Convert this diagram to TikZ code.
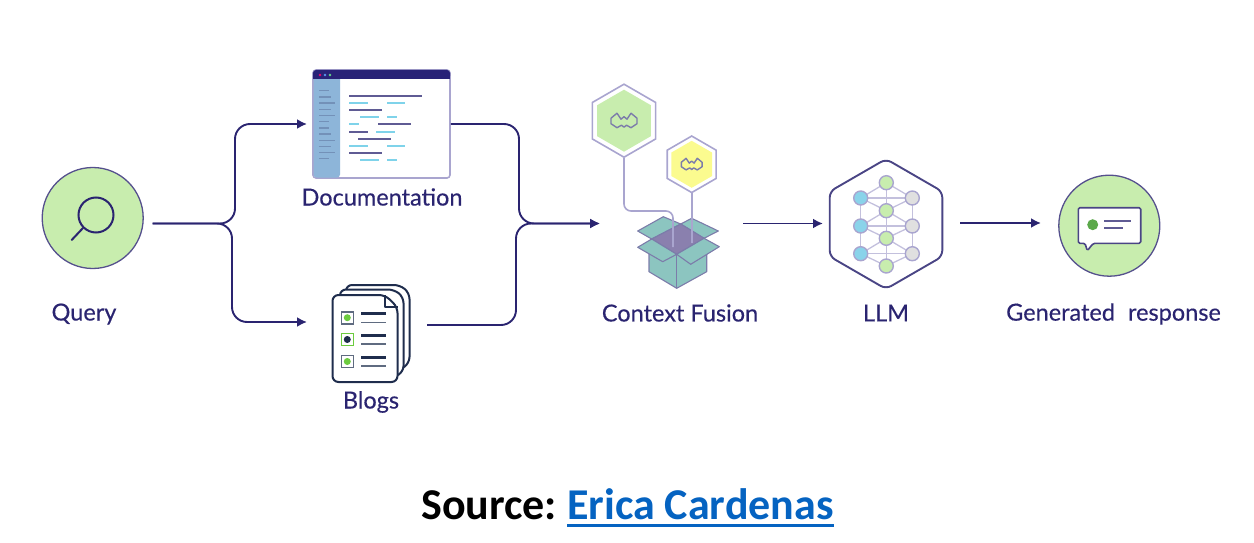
\documentclass[tikz,border=0pt]{standalone}
\usepackage{fontspec}
\usepackage{xcolor}
\usepackage{tikz}
\usetikzlibrary{shapes.geometric, arrows.meta}
\setmainfont[FakeBold=0.3]{Lato}
\newfontfamily\sourcefont{Carlito}

\definecolor{navy}{HTML}{2A2470}
\definecolor{lavender}{HTML}{A9A5CF}
\definecolor{softgreen}{HTML}{C8EDAE}
\definecolor{softyellow}{HTML}{FBFB8F}
\definecolor{sidebar}{HTML}{8DB5D9}
\definecolor{sideline}{HTML}{7391B8}
\definecolor{skyline}{HTML}{7FD3EA}
\definecolor{teal}{HTML}{8CC5C0}
\definecolor{boxedge}{HTML}{7C7CAA}
\definecolor{boxdark}{HTML}{8A80AE}
\definecolor{inkblue}{HTML}{1F2D4D}
\definecolor{greyline}{HTML}{5F6B80}
\definecolor{leafgreen}{HTML}{6CCB3F}
\definecolor{bubblegreen}{HTML}{5BA84A}
\definecolor{skyblue}{HTML}{8AD3EA}
\definecolor{softgrey}{HTML}{E0E0E0}
\definecolor{linkblue}{HTML}{0563C1}

\tikzset{
    label text/.style={text=navy, font=\fontsize{23.5}{28}\selectfont, inner sep=0pt},
    flow/.style={draw=navy, line width=1.9pt, rounded corners=15pt},
    round icon/.style={circle, draw=navy!80, fill=softgreen, line width=1.3pt, minimum size=101pt, inner sep=0pt},
    hex frame/.style={regular polygon, regular polygon sides=6, shape border rotate=30, draw=lavender, line width=1.6pt, inner sep=0pt},
    hex fill/.style={regular polygon, regular polygon sides=6, shape border rotate=30, inner sep=0pt},
    mesh/.style={circle, draw=lavender, line width=1.4pt, minimum size=14pt, inner sep=0pt},
    page/.style={draw=inkblue, fill=white, line width=2pt, rounded corners=6pt},
    check/.style={draw=#1, fill=white, line width=1.6pt, minimum size=12pt, inner sep=0pt},
    codeline/.style={line width=1.8pt, draw=#1},
    flap/.style={fill=teal, draw=boxedge, line width=1.1pt, line join=round},
    source text/.style={font=\sourcefont\bfseries\fontsize{44}{50}\selectfont, inner sep=0pt}
}

\newcommand{\hexlogo}[2]{
    \draw[boxedge, line width=1.4pt, line join=round, shift={(#1)}, scale=#2]
        (-13,-2.5) -- (-7,-7.5) -- (-3,-1.5) -- (0,-4) -- (3,-1.5) -- (7,-7.5) -- (13,-2.5) -- (13,3)
        -- (7,7) -- (2.5,4.5) -- (0,6.5) -- (-2.5,4.5) -- (-7,7) -- (-13,3) -- cycle;
}

\begin{document}
\begin{tikzpicture}[>={Latex[length=10pt,width=10pt]}, x=1pt, y=-1pt]
    \useasboundingbox (0,0) rectangle (1254,543);

    % Query
    \node[round icon] (query) at (92.7,218) {};
    \node[circle, draw=navy, line width=2pt, minimum size=35pt, inner sep=0pt] (lens) at (96,215) {};
    \coordinate (handle) at (71.7,240);
    \draw[navy, line width=2pt, line cap=round] (lens.225) -- (handle);
    \node[label text] (querytext) at (84,314) {Query};

    % Documentation
    \node[draw=lavender, fill=white, line width=1.6pt, rounded corners=3pt, minimum width=137pt, minimum height=108pt, inner sep=0pt] (docwin) at (381.5,124) {};
    \fill[sidebar, rounded corners=3pt] (313.5,74) rectangle (340,177.5);
    \fill[navy!95!blue, rounded corners=3pt] (313,70) rectangle (450,79);
    \fill[navy!95!blue] (313,75) rectangle (450,79);
    \fill[magenta!70!red] (320,75) circle (1.3);
    \fill[skyline!70!blue] (325,75) circle (1.3);
    \fill[teal!70!green] (330,75) circle (1.3);
    \node[label text] (doctext) at (382,197) {Documentation};
    % Sidebar lines
    \foreach \y/\e in {90.7/328.7, 97/331, 103/334.7, 109.3/331, 115.3/334.7, 121.3/328.7, 128/328.7, 134/331, 140.3/334.7, 146.3/331, 152.3/334.7, 158.3/328.7} {
        \draw[line width=1.3pt, draw=sideline] (319.3,\y) -- (\e,\y);
    }
    \foreach \a/\b/\y in {349.3/421.7/95.7, 349.3/382/110.3, 378/411/124.3, 349.3/368/131.7, 358/391/139, 349.3/382/153.3} {
        \draw[codeline=navy!75] (\a,\y) -- (\b,\y);
    }
    \foreach \a/\b/\y in {349.3/368/103, 387/405/103, 360/379/117.3, 387/397/117.3, 349.3/359/124.3, 376/395/131.7, 349.3/368/146, 387/405/146, 360/379/160, 387/397/160} {
        \draw[codeline=skyline] (\a,\y) -- (\b,\y);
    }

    % Blogs
    \node[label text] (blogtext) at (371,402) {Blogs};
    \draw[page] (346,285) -- (400,285) -- (409.5,293) -- (409.5,363) -- (400,370) -- (346,370) -- cycle;
    \draw[page] (340,289.5) -- (394,289.5) -- (403.5,297) -- (403.5,372) -- (394,377) -- (340,377) -- cycle;
    \draw[page] (332.5,295) -- (385,295) -- (397.5,307) -- (397.5,382) -- (332.5,382) -- cycle;
    \draw[inkblue, line width=1.4pt, line join=round] (385,295) -- (385,307) -- (397.5,307);
    \foreach \n/\y/\c/\d in {one/317.7/greyline/leafgreen, two/339.5/leafgreen/inkblue, three/361.5/greyline/leafgreen} {
        \node[check=\c] (box\n) at (347.3,\y) {};
        \fill[\d] (box\n.center) circle (3.5);
        \draw[inkblue, line width=2.8pt] (361,\y-4.2) -- (385.7,\y-4.2);
        \draw[greyline, line width=1.5pt] (361,\y+4.6) -- (385.7,\y+4.6);
    }

    % Context Fusion
    \node[hex frame, minimum size=73pt] (bighex) at (624,120.7) {};
    \node[hex fill, fill=softgreen, minimum size=62pt] (bigfill) at (bighex.center) {};
    \hexlogo{bighex.center}{1}
    \node[hex frame, minimum size=56.5pt] (smallhex) at (691.7,164.3) {};
    \node[hex fill, fill=softyellow, minimum size=47pt] (smallfill) at (smallhex.center) {};
    \hexlogo{smallhex.center}{0.8}
    \node[label text] (fusiontext) at (680,313) {Context Fusion};
    % Box
    \coordinate (dropa) at (673,247);
    \coordinate (dropb) at (691.7,243);
    \draw[flap] (649,254) -- (649,271.7) -- (676.7,288.3) -- (706.7,271.7) -- (706.7,254) -- (676.7,240) -- cycle;
    \draw[flap] (676.7,254.3) -- (676.7,288.3);
    \draw[flap] (651.7,239) -- (637.7,231) -- (663.3,216.7) -- (680.7,224) -- cycle;
    \draw[flap] (680.7,224) -- (691.7,218.3) -- (718.3,231) -- (704,238.3) -- cycle;
    \draw[boxedge, fill=boxdark, line width=1.1pt, line join=round] (651.7,239) -- (680.7,224) -- (704,238.3) -- (676.7,254.3) -- cycle;
    \draw[lavender, line width=1.6pt, rounded corners=7pt] (bighex.south) -- (624,211) -- (673,211) -- (dropa);
    \draw[lavender, line width=1.6pt] (smallhex.south) -- (dropb);
    \draw[flap] (651.7,239) -- (637.7,247.3) -- (662.7,261.7) -- (676.7,254.3) -- cycle;
    \draw[flap] (704,238.3) -- (719.3,246.7) -- (690.7,264.3) -- (676.7,254.3) -- cycle;

    % LLM
    \node[regular polygon, regular polygon sides=6, shape border rotate=30, draw=navy!85, line width=1.9pt, rounded corners=6pt, minimum size=130pt, inner sep=0pt] (llmhex) at (886,224) {};
    \node[label text] (llmtext) at (886,313) {LLM};
    \foreach \n/\y in {a/182.7, b/210.7, c/238.3, d/266} {
        \coordinate (g\n) at (886.3,\y);
    }
    \foreach \n/\y in {a/198, b/226, c/253.7} {
        \coordinate (l\n) at (860.7,\y);
        \coordinate (r\n) at (912.3,\y);
    }
    \foreach \p/\q in {la/ga, la/gb, la/ra, ga/ra, gb/ra, ga/gb, gb/gc, gc/gd, la/lb, lb/lc, ra/rb, rb/rc, lb/gb, gb/rb, lb/rb, lb/gc, gc/rb, lc/gc, gc/rc, lc/rc, lc/gd, gd/rc} {
        \draw[lavender!70, line width=1.3pt] (\p) -- (\q);
    }
    \foreach \n in {a,b,c,d} { \node[mesh, fill=softgreen] (mg\n) at (g\n) {}; }
    \foreach \n in {a,b,c} {
        \node[mesh, fill=skyblue] (ml\n) at (l\n) {};
        \node[mesh, fill=softgrey] (mr\n) at (r\n) {};
    }

    % Generated response
    \node[round icon] (response) at (1109.3,225.7) {};
    \draw[navy!85, fill=white, line width=1.6pt, line join=round, rounded corners=1.5pt] (1078.3,207.7) -- (1140.7,207.7) -- (1140.7,243.3) -- (1093.3,243.3) -- (1087.3,250.7) -- (1085,243.3) -- (1078.3,243.3) -- cycle;
    \fill[bubblegreen] (1092.7,224.7) circle (5.5);
    \draw[navy!75, line width=1.7pt] (1104.3,221.3) -- (1131,221.3);
    \draw[navy!75, line width=1.7pt] (1104.3,228) -- (1122.7,228);
    \node[label text] (restext) at (1113.5,314) {Generated\ \ \kern1pt response};

    % Connectors
    \coordinate (qout) at (152.5,223.5);
    \coordinate (fuse) at (600,223.5);
    \coordinate (blogin) at (307,322);
    \coordinate (blogout) at (427,325);
    \coordinate (docin) at (307,124);
    \draw[flow, ->] (qout) -- (235,223.5) -- (235,124) -- (docin);
    \draw[flow, ->] (qout) -- (232,223.5) -- (232,322) -- (blogin);
    \draw[flow, ->] (docwin.east) -- (519,124) -- (519,223.5) -- (fuse);
    \draw[flow, ->] (blogout) -- (516,325) -- (516,223.5) -- (fuse);
    \coordinate (fuseout) at (743,223.5);
    \coordinate (llmin) at (823,223.5);
    \coordinate (llmout) at (960,223);
    \coordinate (resin) at (1041,223);
    \draw[flow, ->] (fuseout) -- (llmin);
    \draw[flow, ->] (llmout) -- (resin);

    % Source
    \node[source text, text=black, anchor=base west] (source) at (421,519) {Source:};
    \node[source text, text=linkblue, anchor=base west] (link) at (567,519) {Erica Cardenas};
    \draw[linkblue, line width=3pt] ([yshift=-6pt]link.base west) -- ([yshift=-6pt]link.base east);
\end{tikzpicture}
\end{document}
